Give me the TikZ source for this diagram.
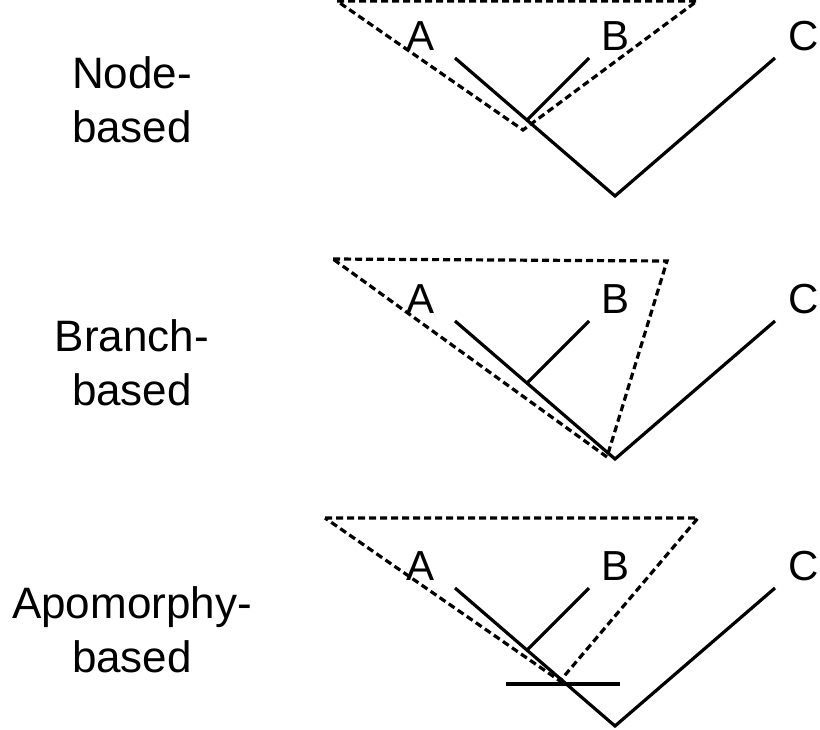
\documentclass[tikz,border=0pt]{standalone}
\usepackage{fontspec}
\setmainfont{Liberation Sans}
\begin{document}
\begin{tikzpicture}[x=0.75pt,y=-0.75pt,
  branch/.style={line width=2.4pt, line cap=butt},
  clade/.style={line width=2.4pt, dash pattern=on 5.25pt off 3pt, line join=miter},
  tip/.style={font=\fontsize{31.5}{37}\selectfont, anchor=base, inner sep=0pt},
  side/.style={font=\fontsize{33}{40}\selectfont, anchor=base, inner sep=0pt}]
\useasboundingbox (0,0) rectangle (820,729);
\clip (0,0) rectangle (820,729);
\fill[white] (0,0) rectangle (820,729);

% ---------- Node-based ----------
\node[side] (n1) at (132,88) {Node-};
\node[side] (n2) at (132,142) {based};
\node[tip] (nA) at (421,50) {A};
\node[tip] (nB) at (615,50) {B};
\node[tip] (nC) at (804,50) {C};
\coordinate (nAt) at (455,58);
\coordinate (nBt) at (589,58);
\coordinate (nCt) at (775,58);
\coordinate (nR) at (615,196);
\coordinate (nJ) at (527,120);
\draw[branch] (nAt) -- (nR) -- (nCt);
\draw[branch] (nBt) -- (nJ);
\coordinate (nT1) at (337,1);
\coordinate (nT2) at (697,1);
\coordinate (nT3) at (523,130);
\draw[clade] (nT1) -- (nT2) -- (nT3) -- cycle;

% ---------- Branch-based ----------
\node[side] (b1) at (132,351) {Branch-};
\node[side] (b2) at (132,405) {based};
\node[tip] (bA) at (421,313) {A};
\node[tip] (bB) at (615,313) {B};
\node[tip] (bC) at (804,313) {C};
\coordinate (bAt) at (455,321);
\coordinate (bBt) at (589,321);
\coordinate (bCt) at (775,321);
\coordinate (bR) at (615,459);
\coordinate (bJ) at (527,383);
\draw[branch] (bAt) -- (bR) -- (bCt);
\draw[branch] (bBt) -- (bJ);
\coordinate (bT1) at (333,259);
\coordinate (bT2) at (667,261);
\coordinate (bT3) at (607,457);
\draw[clade] (bT1) -- (bT2) -- (bT3) -- cycle;

% ---------- Apomorphy-based ----------
\node[side] (a1) at (132,618) {Apomorphy-};
\node[side] (a2) at (132,672) {based};
\node[tip] (aA) at (421,580) {A};
\node[tip] (aB) at (615,580) {B};
\node[tip] (aC) at (804,580) {C};
\coordinate (aAt) at (455,588);
\coordinate (aBt) at (589,588);
\coordinate (aCt) at (775,588);
\coordinate (aR) at (615,726);
\coordinate (aJ) at (527,650);
\draw[branch] (aAt) -- (aR) -- (aCt);
\draw[branch] (aBt) -- (aJ);
\coordinate (aM1) at (506,684);
\coordinate (aM2) at (620,684);
\draw[branch] (aM1) -- (aM2);
\coordinate (aT1) at (325,518);
\coordinate (aT2) at (698,518);
\coordinate (aT3) at (560,681);
\draw[clade] (aT1) -- (aT2) -- (aT3) -- cycle;
\end{tikzpicture}
\end{document}
